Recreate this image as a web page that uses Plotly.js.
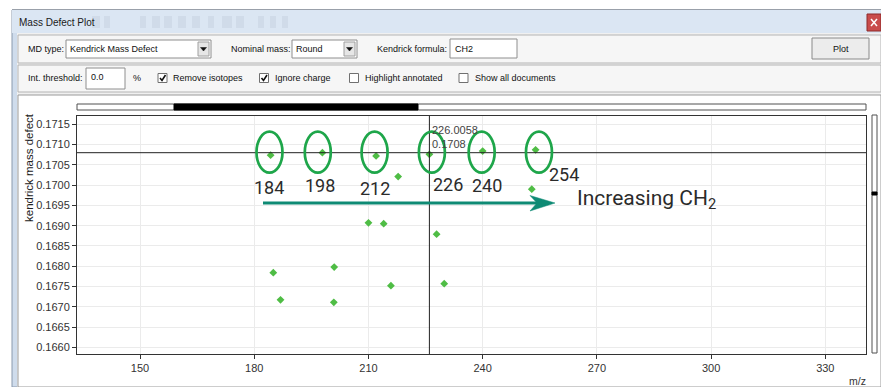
<!DOCTYPE html>
<html>
<head>
<meta charset="utf-8">
<script src="https://cdn.plot.ly/plotly-3.0.1.min.js"></script>
<style>html,body{margin:0;padding:0;background:#fff;}#chart{width:881px;height:387px;}</style>
</head>
<body>
<div id="chart"></div>
<script>
// ---------------- data ----------------
const mz  = [184.3, 197.9, 212.0, 217.8, 226.0, 240.0, 253.9, 252.9, 210.0, 214.0, 227.9, 185.0, 201.0, 215.9, 229.9, 186.9, 200.9];
const kmd = [0.17074, 0.17080, 0.17072, 0.17021, 0.17076, 0.17084, 0.17087, 0.16990, 0.16907, 0.16905, 0.16879, 0.16784, 0.16798, 0.16752, 0.16757, 0.16717, 0.16711];
const seriesLabels = ['184', '198', '212', '226', '240', '254'];
const seriesMasses = [184, 198, 212, 226, 240, 254];
const crossX = 226.0058;
const crossY = 0.1708;
const xTicks = [150, 180, 210, 240, 270, 300, 330];
const yTicks = [0.1660, 0.1665, 0.1670, 0.1675, 0.1680, 0.1685, 0.1690, 0.1695, 0.1700, 0.1705, 0.1710, 0.1715];

// ---------------- geometry helpers (pixel -> paper) ----------------
const W = 881, H = 387, ML = 77, MR = 15, MT = 116, MB = 33;
const PW = W - ML - MR, PH = H - MT - MB;
const PX = x => (x - ML) / PW;
const PY = y => 1 - (y - MT) / PH;

const shapes = [];
const annotations = [];
const uiFont = 'Liberation Sans, Arial, sans-serif';
const bigFont = 'Roboto, Liberation Sans, sans-serif';

function rect(x0, y0, x1, y1, fill, line, lw, layer) {
  shapes.push({type: 'rect', xref: 'paper', yref: 'paper', x0: PX(x0), x1: PX(x1), y0: PY(y1), y1: PY(y0),
    fillcolor: fill, line: {color: line || fill, width: lw === undefined ? 1 : lw}, layer: layer || 'below'});
}
function hline(x0, x1, y, color, w) {
  shapes.push({type: 'line', xref: 'paper', yref: 'paper', x0: PX(x0), x1: PX(x1), y0: PY(y), y1: PY(y), line: {color: color, width: w || 1}, layer: 'below'});
}
function path(pts, fill, layer) {
  const d = 'M ' + pts.map(p => PX(p[0]) + ',' + PY(p[1])).join(' L ') + ' Z';
  shapes.push({type: 'path', xref: 'paper', yref: 'paper', path: d, fillcolor: fill, line: {color: fill, width: 0.5}, layer: layer || 'below'});
}
function polyline(pts, color, w) {
  const d = 'M ' + pts.map(p => PX(p[0]) + ',' + PY(p[1])).join(' L ');
  shapes.push({type: 'path', xref: 'paper', yref: 'paper', path: d, fillcolor: 'rgba(0,0,0,0)', line: {color: color, width: w}, layer: 'below'});
}
function label(text, x, y, size, color, anchor, family) {
  annotations.push({text: text, xref: 'paper', yref: 'paper', x: PX(x), y: PY(y), xanchor: anchor || 'left', yanchor: 'middle',
    showarrow: false, borderpad: 0, font: {family: family || uiFont, size: size || 9, color: color || '#111'}});
}
function checkbox(x, y, checked) {
  rect(x, y - 4.5, x + 9, y + 4.5, '#ffffff', '#707070', 1);
  if (checked) polyline([[x + 2, y], [x + 4, y + 2.5], [x + 7.5, y - 3]], '#111', 1.6);
}
function combo(x0, x1, y0, y1, text) {
  rect(x0, y0, x1, y1, '#ffffff', '#8e8e8e', 1);
  label(text, x0 + 3, (y0 + y1) / 2, 9, '#111');
  rect(x1 - 13, y0 + 2, x1 - 2, y1 - 2, '#e6e6e6', '#a0a0a0', 1);
  const cx = x1 - 7.5, cy = (y0 + y1) / 2;
  path([[cx - 3, cy - 1.5], [cx + 3, cy - 1.5], [cx, cy + 2]], '#111');
}

// ---------------- window chrome ----------------
hline(12, 881, 9.5, '#a8a8a8', 1);
rect(12, 10, 881, 387, '#cfdcec', '#8a99ad', 1);        // window frame
rect(12, 10, 881, 33, '#dbe6f3', '#dbe6f3', 0);         // title bar
// faded toolbar icons in the title bar
[[92, 100], [104, 110], [140, 146], [152, 160], [164, 172], [178, 186], [192, 200], [208, 214], [222, 232], [236, 244], [258, 264], [270, 276], [282, 288]].forEach(p => {
  rect(p[0], 16, p[1], 28, 'rgba(120,130,150,0.10)', 'rgba(120,130,150,0)', 0);
});
label('Mass Defect Plot', 18, 22, 10, '#1a1a1a');
rect(867, 14, 881, 31, '#c94c4c', '#8c2a2a', 1);
polyline([[871, 19], [877, 26]], '#ffffff', 1.5);
polyline([[877, 19], [871, 26]], '#ffffff', 1.5);

rect(17, 33, 881, 387, '#f0f0f0', '#f0f0f0', 0);        // content area
rect(18, 35, 881, 63, '#f6f6f6', '#b4b4b4', 1);          // row 1
rect(18, 65, 881, 92, '#f6f6f6', '#b4b4b4', 1);          // row 2
rect(18, 95, 881, 387, '#ffffff', '#9a9a9a', 1);         // plot panel

// row 1
label('MD type:', 27, 49, 9);
combo(66, 211, 40, 58, 'Kendrick Mass Defect');
label('Nominal mass:', 230, 49, 9);
combo(292, 357, 40, 58, 'Round');
label('Kendrick formula:', 376, 49, 9);
rect(450, 39, 517, 58, '#ffffff', '#8e8e8e', 1);
label('CH2', 454, 48.5, 9);
rect(812, 38, 869, 59, '#ececec', '#8a8a8a', 1);
label('Plot', 840.5, 48.5, 9, '#111', 'center');

// row 2
label('Int. threshold:', 27, 78, 9);
rect(86, 68, 125, 89, '#ffffff', '#8e8e8e', 1);
label('0.0', 90, 77.5, 9);
label('%', 132, 78, 9);
checkbox(158, 78, true);  label('Remove isotopes', 172, 78, 9);
checkbox(259.5, 78, true); label('Ignore charge', 274, 78, 9);
checkbox(349.5, 78, false); label('Highlight annotated', 364, 78, 9);
checkbox(459, 78, false); label('Show all documents', 474, 78, 9);

// scrollbars
rect(77, 104, 866, 110, '#ffffff', '#505050', 1);
rect(174, 104, 418, 110, '#000000', '#000000', 1);
rect(872, 115, 877, 353, '#ffffff', '#505050', 1);
rect(872, 192, 877, 195, '#000000', '#000000', 1);

// axis titles
annotations.push({text: 'kendrick mass defect', xref: 'paper', yref: 'paper', x: PX(28.5), y: PY(167.5), textangle: -90,
  xanchor: 'center', yanchor: 'middle', showarrow: false, font: {family: uiFont, size: 11.5, color: '#222'}});
label('m/z', 857, 381, 10.5, '#333', 'center');

// ---------------- crosshair ----------------
shapes.push({type: 'line', xref: 'x', yref: 'paper', x0: crossX, x1: crossX, y0: 0, y1: 1, line: {color: '#222', width: 1}, layer: 'above'});
shapes.push({type: 'line', xref: 'paper', yref: 'y', x0: 0, x1: 1, y0: crossY, y1: crossY, line: {color: '#222', width: 1}, layer: 'above'});
annotations.push({text: crossX.toFixed(4) + '<br>' + crossY.toFixed(4), xref: 'x', yref: 'y', x: crossX, y: crossY,
  xanchor: 'left', yanchor: 'bottom', xshift: 1, yshift: 1, align: 'left', showarrow: false,
  font: {family: uiFont, size: 11, color: '#444'}});

// ---------------- highlighted CH2 series: ellipses + labels ----------------
const ellipseShift = [0, -5, -1.5, 2.5, -1, 3];
const labelShift = [[-0.5, -34.7], [-2.8, -32.7], [-0.6, -35.7], [18.3, -32.2], [4.3, -32.7], [27.8, -21.4]];
seriesMasses.forEach((m, i) => {
  shapes.push({type: 'circle', xref: 'x', yref: 'y', xsizemode: 'pixel', ysizemode: 'pixel',
    xanchor: m, yanchor: crossY, x0: -13 + ellipseShift[i], x1: 13 + ellipseShift[i], y0: -20, y1: 21,
    line: {color: '#1ea64a', width: 2.7}, layer: 'above'});
  annotations.push({text: seriesLabels[i], xref: 'x', yref: 'y', x: m, y: crossY, xshift: labelShift[i][0], yshift: labelShift[i][1],
    xanchor: 'center', yanchor: 'middle', showarrow: false,
    font: {family: bigFont, size: 18, color: '#2b2b2b'}});
});

// arrow "Increasing CH2"
shapes.push({type: 'line', xref: 'paper', yref: 'paper', x0: PX(263), x1: PX(540), y0: PY(203), y1: PY(203), line: {color: '#0e8a74', width: 3}, layer: 'above'});
path([[555, 203], [530, 195.5], [537, 203], [530, 211]], '#0e8a74', 'above');
label('Increasing CH<sub>2</sub>', 576, 199, 21, '#2b2b2b', 'left', bigFont);

// ---------------- plot ----------------
const trace = {
  x: mz, y: kmd, type: 'scatter', mode: 'markers',
  marker: {symbol: 'diamond', size: 6, color: '#4fbd45'},
  hoverinfo: 'x+y', showlegend: false
};

const layout = {
  width: W, height: H,
  margin: {l: ML, r: MR, t: MT, b: MB, pad: 0},
  paper_bgcolor: '#ffffff', plot_bgcolor: '#ffffff',
  font: {family: uiFont, size: 11, color: '#333'},
  xaxis: {
    range: [133.44, 340.69], tickvals: xTicks, ticktext: xTicks.map(String),
    showgrid: true, gridcolor: '#ebebeb', gridwidth: 1, zeroline: false,
    showline: true, linecolor: '#333', linewidth: 1, mirror: true,
    ticks: 'outside', ticklen: 4, tickcolor: '#333', tickfont: {size: 11, color: '#333'}
  },
  yaxis: {
    range: [0.165835, 0.171705], tickvals: yTicks, ticktext: yTicks.map(v => v.toFixed(4)),
    showgrid: true, gridcolor: '#ebebeb', gridwidth: 1, zeroline: false,
    showline: true, linecolor: '#333', linewidth: 1, mirror: true,
    ticks: 'outside', ticklen: 4, tickcolor: '#333', tickfont: {size: 11, color: '#333'}
  },
  shapes: shapes,
  annotations: annotations
};

Plotly.newPlot('chart', [trace], layout, {displayModeBar: false, staticPlot: true});
</script>
</body>
</html>
